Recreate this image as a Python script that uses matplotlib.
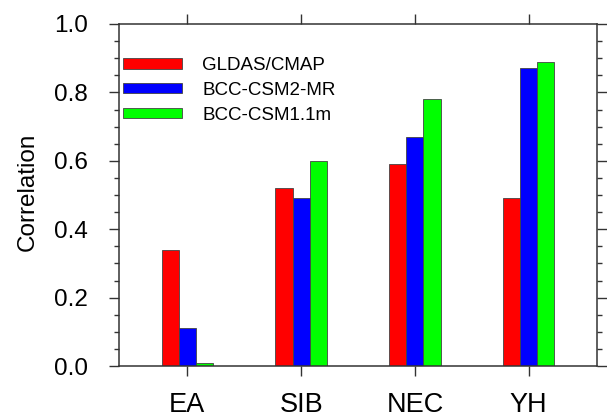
import matplotlib
matplotlib.use("Agg")
import matplotlib.pyplot as plt
import numpy as np
from matplotlib.ticker import MultipleLocator

plt.rcParams['font.family'] = ['Liberation Sans', 'DejaVu Sans']

categories = ["EA", "SIB", "NEC", "YH"]
series_names = ["GLDAS/CMAP", "BCC-CSM2-MR", "BCC-CSM1.1m"]
gldas_cmap = [0.34, 0.52, 0.59, 0.49]
bcc_csm2_mr = [0.11, 0.49, 0.67, 0.87]
bcc_csm11m = [0.01, 0.60, 0.78, 0.89]
series_values = [gldas_cmap, bcc_csm2_mr, bcc_csm11m]
colors = ["#ff0000", "#0000ff", "#00ff00"]

fig = plt.figure(figsize=(6.07, 4.19), dpi=100)
ax = fig.add_axes([119/607, 1-366/419, (597-119)/607, (366-24)/419])

x = np.arange(1, len(categories)+1)
width = 0.15
for i, (name, vals, c) in enumerate(zip(series_names, series_values, colors)):
    ax.bar(x + (i-1)*width, vals, width, color=c, edgecolor='#444444',
           linewidth=0.6, label=name)

ax.set_xlim(0.4, 4.6)
ax.set_ylim(0, 1.0)
ax.set_xticks(x)
ax.set_xticklabels(categories, fontsize=19.5)
ax.yaxis.set_major_locator(MultipleLocator(0.2))
ax.yaxis.set_minor_locator(MultipleLocator(0.05))
ax.yaxis.set_major_formatter(matplotlib.ticker.FormatStrFormatter('%.1f'))
ax.tick_params(axis='y', which='major', labelsize=17.5, direction='out',
               length=7.2, width=1.0, pad=15, left=True, right=True, color='#333333')
ax.tick_params(axis='y', which='minor', direction='out', length=3.6, width=1.0,
               left=True, right=True, color='#333333')
ax.tick_params(axis='x', which='major', direction='out', length=7.2, width=1.0,
               pad=11.5, top=True, bottom=True, color='#333333')
for s in ax.spines.values():
    s.set_linewidth(1.1)
    s.set_color('#333333')

ax.set_ylabel("Correlation", fontsize=17.5)
ax.yaxis.set_label_coords(-0.168, 0.51)

leg = ax.legend(loc='upper left', bbox_to_anchor=(3.7/478, 1-33/342), frameon=False,
                fontsize=13.5, handlelength=3.15, handleheight=0.48,
                handletextpad=1.1, labelspacing=0.42, borderpad=0, borderaxespad=0)

fig.savefig("out.png", dpi=100)
